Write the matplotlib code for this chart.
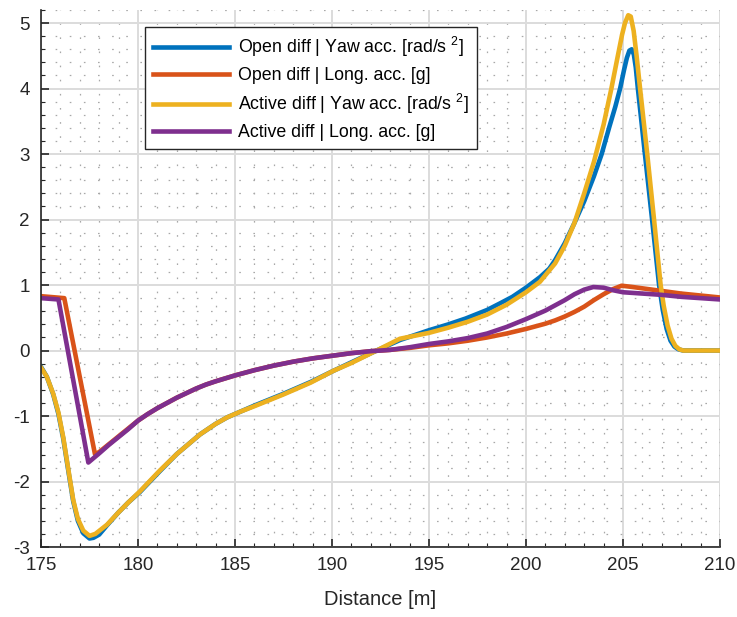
import numpy as np
import matplotlib
matplotlib.use("Agg")
import matplotlib.pyplot as plt
from matplotlib.ticker import MultipleLocator

# Open diff - yaw acceleration [rad/s^2]
x_open_yaw = [175.0, 175.3, 175.63, 175.9, 176.15, 176.4, 176.66, 176.9, 177.18, 177.5,
              177.7, 178.0, 178.4, 179.0, 179.5, 180.1, 181.1, 182.0, 183.2, 184.0,
              184.6, 185.3, 186.0, 187.5, 188.9, 190.07, 191.0, 192.3, 193.5, 195.0,
              196.0, 196.9, 198.0, 198.66, 199.3, 200.0, 200.72, 201.2, 201.5, 202.0,
              202.5, 203.0, 203.5, 203.9, 204.3, 204.6, 204.85, 205.05, 205.2, 205.33,
              205.45, 205.56, 205.66, 205.76, 206.13, 206.5, 206.86, 207.05, 207.25, 207.45,
              207.65, 207.85, 208.1, 210.0]
y_open_yaw = [-0.25, -0.40, -0.67, -0.97, -1.35, -1.82, -2.30, -2.60, -2.79, -2.87,
              -2.86, -2.81, -2.67, -2.47, -2.32, -2.16, -1.85, -1.58, -1.28, -1.12,
              -1.02, -0.93, -0.84, -0.66, -0.48, -0.31, -0.18, 0.0, 0.16, 0.31,
              0.40, 0.49, 0.62, 0.72, 0.82, 0.96, 1.12, 1.25, 1.38, 1.64,
              1.95, 2.28, 2.66, 3.00, 3.42, 3.72, 4.00, 4.28, 4.47, 4.58,
              4.60, 4.52, 4.32, 4.02, 3.00, 2.00, 1.00, 0.62, 0.33, 0.15,
              0.06, 0.02, 0.0, 0.0]

# Open diff - longitudinal acceleration [g]
x_open_long = [175.0, 176.2, 177.78, 178.0, 178.5, 179.0, 179.5, 180.0, 180.5, 181.0,
               181.5, 182.0, 182.5, 183.0, 183.5, 184.0, 185.0, 186.0, 187.0, 188.0,
               189.0, 190.0, 191.0, 192.0, 193.0, 194.0, 195.0, 196.0, 197.0, 198.0,
               199.0, 200.0, 201.0, 201.5, 202.0, 202.5, 203.0, 203.5, 204.0, 204.5,
               204.93, 205.5, 206.0, 207.0, 208.0, 209.0, 210.0]
y_open_long = [0.83, 0.80, -1.58, -1.55, -1.43, -1.31, -1.19, -1.07, -0.97, -0.88,
               -0.80, -0.72, -0.65, -0.58, -0.52, -0.47, -0.38, -0.30, -0.23, -0.17,
               -0.12, -0.08, -0.04, -0.01, 0.01, 0.04, 0.08, 0.11, 0.15, 0.20,
               0.26, 0.33, 0.41, 0.46, 0.52, 0.59, 0.67, 0.77, 0.86, 0.94,
               0.99, 0.97, 0.95, 0.91, 0.87, 0.84, 0.81]

# Active diff - yaw acceleration [rad/s^2]
x_act_yaw = [175.0, 175.3, 175.63, 175.9, 176.15, 176.4, 176.66, 176.9, 177.18, 177.5,
             177.8, 178.4, 179.0, 179.5, 180.1, 181.1, 182.0, 183.2, 184.0, 184.6,
             185.3, 186.0, 187.5, 188.9, 190.07, 191.0, 192.3, 193.5, 195.0, 196.0,
             197.0, 198.0, 199.0, 200.0, 200.72, 201.5, 202.0, 202.5, 203.0, 203.5,
             204.0, 204.4, 204.7, 204.95, 205.1, 205.27, 205.4, 205.55, 205.7, 205.88,
             206.25, 206.6, 206.94, 207.1, 207.3, 207.5, 207.7, 207.9, 208.1, 210.0]
y_act_yaw = [-0.26, -0.40, -0.66, -0.95, -1.33, -1.80, -2.28, -2.57, -2.75, -2.83,
             -2.80, -2.66, -2.47, -2.32, -2.15, -1.84, -1.58, -1.28, -1.12, -1.02,
             -0.93, -0.85, -0.67, -0.49, -0.31, -0.19, 0.0, 0.18, 0.27, 0.35,
             0.44, 0.55, 0.70, 0.89, 1.05, 1.33, 1.60, 1.95, 2.40, 2.88,
             3.45, 4.00, 4.45, 4.82, 5.00, 5.12, 5.10, 4.88, 4.50, 4.00,
             3.00, 2.00, 1.00, 0.68, 0.38, 0.18, 0.07, 0.02, 0.0, 0.0]

# Active diff - longitudinal acceleration [g]
x_act_long = [175.0, 175.9, 177.44, 178.0, 178.5, 179.0, 179.5, 180.0, 180.5, 181.0,
              181.5, 182.0, 182.5, 183.0, 183.5, 184.0, 185.0, 186.0, 187.0, 188.0,
              189.0, 190.0, 191.0, 192.0, 193.0, 194.0, 195.0, 196.0, 197.0, 198.0,
              199.0, 200.0, 201.0, 201.5, 202.0, 202.5, 203.0, 203.47, 204.0, 204.5,
              205.0, 205.5, 206.0, 207.0, 208.0, 209.0, 210.0]
y_act_long = [0.80, 0.78, -1.71, -1.57, -1.44, -1.32, -1.20, -1.07, -0.97, -0.88,
              -0.80, -0.72, -0.65, -0.58, -0.52, -0.47, -0.38, -0.30, -0.23, -0.17,
              -0.12, -0.08, -0.04, -0.01, 0.01, 0.05, 0.10, 0.14, 0.19, 0.26,
              0.36, 0.48, 0.61, 0.69, 0.77, 0.86, 0.93, 0.97, 0.96, 0.92,
              0.89, 0.88, 0.87, 0.85, 0.82, 0.80, 0.78]

labels = ['Open diff | Yaw acc. [rad/s $^{2}$]',
          'Open diff | Long. acc. [g]',
          'Active diff | Yaw acc. [rad/s $^{2}$]',
          'Active diff | Long. acc. [g]']
colors = ['#0072BD', '#D95319', '#EDB120', '#7E2F8E']

plt.rcParams['font.family'] = ['Liberation Sans', 'DejaVu Sans']
plt.rcParams['mathtext.default'] = 'regular'
plt.rcParams['axes.unicode_minus'] = False

fig = plt.figure(figsize=(7.37, 6.17), dpi=100)
ax = fig.add_axes([41/737, 70/617, 679/737, 537/617])

series = [(x_open_yaw, y_open_yaw), (x_open_long, y_open_long),
          (x_act_yaw, y_act_yaw), (x_act_long, y_act_long)]
for (xs, ys), c, lab in zip(series, colors, labels):
    ax.plot(xs, ys, color=c, lw=3.3, label=lab, solid_joinstyle='round')

ax.set_xlim(175, 210)
ax.set_ylim(-3, 5.2)
ax.xaxis.set_major_locator(MultipleLocator(5))
ax.xaxis.set_minor_locator(MultipleLocator(1))
ax.yaxis.set_major_locator(MultipleLocator(1))
ax.yaxis.set_minor_locator(MultipleLocator(0.2))

ax.grid(which='major', color='#DCDCDC', lw=1.4)
ax.grid(which='minor', color='#A8A8A8', lw=0.9, linestyle=(0, (1.3, 10)))
ax.set_axisbelow(True)

for side in ['top', 'right']:
    ax.spines[side].set_visible(False)
for side in ['left', 'bottom']:
    ax.spines[side].set_color('#262626')
    ax.spines[side].set_linewidth(1.2)

ax.tick_params(which='major', direction='in', length=6, width=1.2, color='#262626',
               labelsize=13.5, labelcolor='#262626')
ax.tick_params(which='minor', direction='in', length=3, width=0.8, color='#262626')
ax.tick_params(axis='y', pad=8)
ax.tick_params(axis='x', pad=7)

ax.set_xlabel('Distance [m]', fontsize=14.5, color='#262626', labelpad=12)

leg = ax.legend(loc='upper left', bbox_to_anchor=(0.153, 0.968), borderaxespad=0,
                fontsize=12.8, fancybox=False, framealpha=1, edgecolor='#262626',
                handlelength=4.3, handletextpad=0.5, labelspacing=0.45,
                borderpad=0.45)
leg.get_frame().set_linewidth(1.0)

fig.savefig('out.png', dpi=100)
